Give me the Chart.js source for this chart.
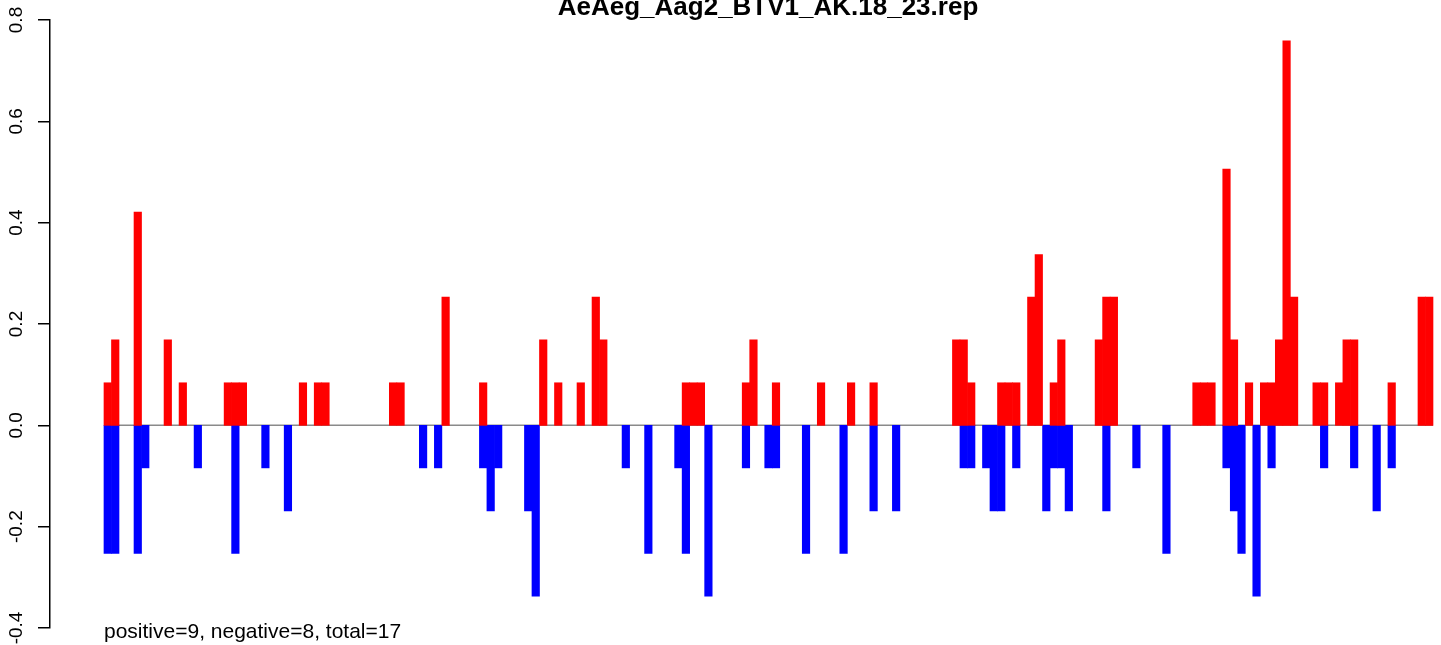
<!DOCTYPE html>
<html>
<head>
<meta charset="utf-8">
<script src="https://cdn.jsdelivr.net/npm/chart.js@4.4.1/dist/chart.umd.min.js"></script>
<style>
  html, body { margin: 0; padding: 0; background: #fff; }
  canvas { display: block; }
</style>
</head>
<body>
<canvas id="chart" width="1441" height="645"></canvas>
<script>
const chartTitle = 'AeAeg_Aag2_BTV1_AK.18_23.rep';
const footnote = 'positive=9, negative=8, total=17';

// bins 0..176 along the x axis
const binCount = 177;

// positive (red) bars: bin index and value
const posBin = [0, 1, 4, 8, 10, 16, 17, 18, 26, 28, 29, 38, 39, 45, 50, 58, 60, 63, 65, 66,
  77, 78, 79, 85, 86, 89, 95, 99, 102, 113, 114, 115, 119, 120, 121, 123, 124, 126, 127,
  132, 133, 134, 145, 146, 147, 149, 150, 152, 154, 155, 156, 157, 158, 161, 162, 164,
  165, 166, 171, 175, 176];
const posValue = [0.084, 0.169, 0.421, 0.169, 0.084, 0.084, 0.084, 0.084, 0.084, 0.084, 0.084,
  0.084, 0.084, 0.253, 0.084, 0.169, 0.084, 0.084, 0.253, 0.169,
  0.084, 0.084, 0.084, 0.084, 0.169, 0.084, 0.084, 0.084, 0.084, 0.169, 0.169, 0.084,
  0.084, 0.084, 0.084, 0.253, 0.337, 0.084, 0.169,
  0.169, 0.253, 0.253, 0.084, 0.084, 0.084, 0.506, 0.169, 0.084, 0.084, 0.084, 0.169,
  0.759, 0.253, 0.084, 0.084, 0.084, 0.169, 0.169, 0.084, 0.253, 0.253];

// negative (blue) bars: bin index and value
const negBin = [0, 1, 4, 5, 12, 17, 21, 24, 42, 44, 50, 51, 52, 56, 57, 69, 72, 76, 77, 80,
  85, 88, 89, 93, 98, 102, 105, 114, 115, 117, 118, 119, 121, 125, 126, 127, 128, 133,
  137, 141, 149, 150, 151, 153, 155, 162, 166, 169, 171];
const negValue = [-0.253, -0.253, -0.253, -0.084, -0.084, -0.253, -0.084, -0.169, -0.084, -0.084,
  -0.084, -0.169, -0.084, -0.169, -0.337, -0.084, -0.253, -0.084, -0.253, -0.337,
  -0.084, -0.084, -0.084, -0.253, -0.253, -0.169, -0.169, -0.084, -0.084, -0.084, -0.169,
  -0.169, -0.084, -0.169, -0.084, -0.084, -0.169, -0.169,
  -0.084, -0.253, -0.084, -0.169, -0.253, -0.337, -0.084, -0.084, -0.084, -0.169, -0.084];

const yTickValues = [-0.4, -0.2, 0, 0.2, 0.4, 0.6, 0.8];
const yTickLabels = ['-0.4', '-0.2', '0.0', '0.2', '0.4', '0.6', '0.8'];

const FONT = '"Liberation Sans", Arial, Helvetica, sans-serif';

const annotate = {
  id: 'annotate',
  beforeDatasetsDraw(chart) {
    const { ctx, scales: { x, y } } = chart;
    // baseline only across the bins
    ctx.save();
    ctx.strokeStyle = '#8a8a8a';
    ctx.lineWidth = 1.5;
    ctx.beginPath();
    ctx.moveTo(x.getPixelForValue(-0.5), y.getPixelForValue(0));
    ctx.lineTo(x.getPixelForValue(binCount - 0.5), y.getPixelForValue(0));
    ctx.stroke();
    ctx.restore();
  },
  afterDraw(chart) {
    const { ctx, scales: { y } } = chart;
    ctx.save();
    ctx.fillStyle = '#000';

    // rotated y tick labels, R style
    ctx.font = '19px ' + FONT;
    ctx.textAlign = 'center';
    ctx.textBaseline = 'alphabetic';
    yTickValues.forEach((v, i) => {
      ctx.save();
      ctx.translate(22, y.getPixelForValue(v));
      ctx.rotate(-Math.PI / 2);
      ctx.fillText(yTickLabels[i], 0, 0);
      ctx.restore();
    });

    ctx.font = 'bold 26px ' + FONT;
    ctx.textAlign = 'center';
    ctx.fillText(chartTitle, 768, 15);

    ctx.font = '21px ' + FONT;
    ctx.textAlign = 'left';
    ctx.fillText(footnote, 104, 638);
    ctx.restore();
  }
};

new Chart(document.getElementById('chart'), {
  type: 'bar',
  data: {
    datasets: [
      {
        label: 'positive',
        data: posBin.map((b, i) => ({ x: b, y: posValue[i] })),
        backgroundColor: '#ff0000',
        borderWidth: 0,
        categoryPercentage: 1,
        barPercentage: 1
      },
      {
        label: 'negative',
        data: negBin.map((b, i) => ({ x: b, y: negValue[i] })),
        backgroundColor: '#0000ff',
        borderWidth: 0,
        categoryPercentage: 1,
        barPercentage: 1
      }
    ]
  },
  options: {
    responsive: false,
    animation: false,
    devicePixelRatio: 1,
    layout: { padding: { left: 38, right: 5, top: 20, bottom: 17 } },
    plugins: {
      legend: { display: false },
      tooltip: { enabled: false },
      title: { display: false }
    },
    scales: {
      x: {
        type: 'linear',
        display: false,
        stacked: true,
        offset: false,
        min: -7.69,
        max: 176.9,
        afterBuildTicks: (s) => { s.ticks = []; }
      },
      y: {
        stacked: true,
        min: -0.4,
        max: 0.8,
        ticks: { display: false, stepSize: 0.2 },
        grid: {
          drawOnChartArea: false,
          drawTicks: true,
          tickLength: 12,
          color: '#000',
          lineWidth: 1.5
        },
        border: { display: true, color: '#000', width: 1.5 }
      }
    }
  },
  plugins: [annotate]
});
</script>
</body>
</html>
